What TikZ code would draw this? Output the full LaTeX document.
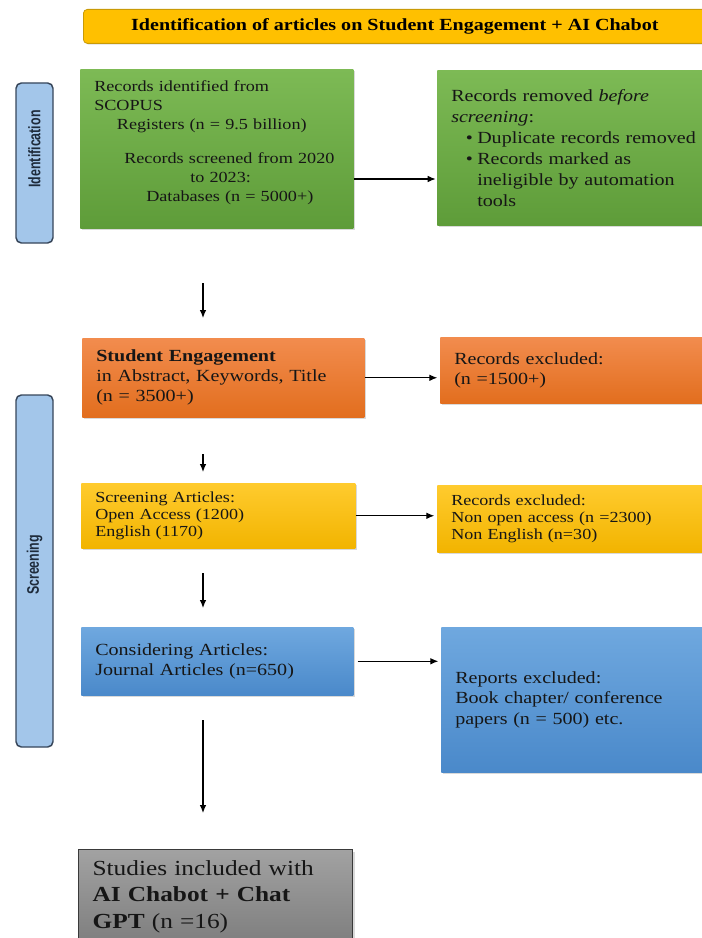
\documentclass[tikz,border=0pt]{standalone}
\usepackage{fontspec}
\setmainfont{Liberation Serif}[FakeStretch=1.18]
\newfontfamily\tabfont{Liberation Sans}
\usepackage{xcolor}
\usepackage{graphicx}
\usetikzlibrary{arrows.meta,shadows}

\definecolor{barfill}{HTML}{FFC000}
\definecolor{barline}{HTML}{C99A06}
\definecolor{grtop}{HTML}{7DBA55}
\definecolor{grbot}{HTML}{5E9C39}
\definecolor{ortop}{HTML}{F28C4E}
\definecolor{orbot}{HTML}{E26E1E}
\definecolor{yetop}{HTML}{FFCB2E}
\definecolor{yebot}{HTML}{F2B400}
\definecolor{bltop}{HTML}{6FA8DF}
\definecolor{blbot}{HTML}{4A89CA}
\definecolor{grytop}{HTML}{A2A2A2}
\definecolor{grybot}{HTML}{7E7E7E}
\definecolor{gryline}{HTML}{3A3A3A}
\definecolor{tabfill}{HTML}{A3C6EA}
\definecolor{tabline}{HTML}{37465A}
\definecolor{tabtext}{HTML}{1E2B3B}
\definecolor{inkdark}{HTML}{161616}

\newcommand\tablabel[2]{\hspace*{#1}\scalebox{1}[1.35]{#2}}

\begin{document}
\begin{tikzpicture}[x=0.75pt,y=-0.75pt]
        \tikzset{box/.style={anchor=north west,inner xsep=10.5pt,inner ysep=0pt,align=left,text=inkdark,
                drop shadow={opacity=0.3,shadow xshift=1.5pt,shadow yshift=-1.5pt}},
            greenbox/.style={box,top color=grtop,bottom color=grbot},
            orangebox/.style={box,top color=ortop,bottom color=orbot,
                font=\fontsize{12.75pt}{15pt}\selectfont},
            yellowbox/.style={box,top color=yetop,bottom color=yebot,
                font=\fontsize{11.5pt}{12.75pt}\selectfont},
            bluebox/.style={box,top color=bltop,bottom color=blbot,
                font=\fontsize{12.75pt}{15.2pt}\selectfont},
            graybox/.style={box,draw=gryline,line width=0.9pt,top color=grytop,bottom color=grybot,
                font=\fontsize{16.1pt}{20pt}\selectfont},
            titlebar/.style={anchor=north west,draw=barline,line width=0.6pt,fill=barfill,rounded corners=3pt,
                drop shadow={opacity=0.25,shadow xshift=1pt,shadow yshift=-1pt},
                font=\bfseries\fontsize{12.75pt}{15pt}\selectfont},
            tab/.style={draw=tabline,line width=1.1pt,fill=tabfill,rounded corners=4pt,rotate=90,
                minimum height=27.75pt,text=tabtext,font=\tabfont\bfseries\fontsize{9.3pt}{11pt}\selectfont},
            arr/.style={draw,line width=0.9pt,-{Latex[length=6pt,width=5pt]}}}
        \useasboundingbox (0,0) rectangle (701,938);

        \node[titlebar,minimum width=467.25pt,minimum height=25.5pt] (title) at (83,9)
            {Identification of articles on Student Engagement + AI Chabot};

        \node[tab,minimum width=120pt] (idtab) at (34.5,163) {\tablabel{21pt}{Identification}};
        \node[tab,minimum width=264pt] (scrtab) at (34.5,571) {\tablabel{9pt}{Screening}};

        \node[greenbox,minimum width=204.75pt,minimum height=119.25pt,text width=183.75pt,
            font=\fontsize{11.55pt}{14.25pt}\selectfont] (idL) at (80,69)
            {Records identified from\\SCOPUS\\
             \hspace*{17pt}Registers (n = 9.5 billion)\\[11pt]
             \hspace*{22.5pt}Records screened from 2020\\
             \hspace*{72pt}to 2023:\\
             \hspace*{39pt}Databases (n = 5000+)\rule[-12pt]{0pt}{12pt}};
        \node[greenbox,minimum width=206.25pt,minimum height=116.25pt,text width=185.25pt,
            font=\fontsize{12.75pt}{15.75pt}\selectfont] (idR) at (437,70)
            {Records removed \textit{before}\\\textit{screening}:\\
             \hspace*{11pt}\makebox[8.5pt][l]{\textbullet}Duplicate records removed\\
             \hspace*{11pt}\makebox[8.5pt][l]{\textbullet}Records marked as\\
             \hspace*{19.5pt}ineligible by automation\\
             \hspace*{19.5pt}tools};

        \node[orangebox,minimum width=211.5pt,minimum height=59.25pt,text width=190.5pt] (seL) at (82,338)
            {\textbf{Student Engagement}\\in Abstract, Keywords, Title\\(n = 3500+)};
        \node[orangebox,minimum width=204pt,minimum height=49.5pt,text width=183pt] (seR) at (440,337)
            {Records excluded:\\(n =1500+)};

        \node[yellowbox,minimum width=205.5pt,minimum height=48.75pt,text width=184.5pt] (scL) at (81,483)
            {Screening Articles:\\Open Access (1200)\\English (1170)};
        \node[yellowbox,minimum width=206.25pt,minimum height=50.25pt,text width=185.25pt] (scR) at (437,485)
            {Records excluded:\\Non open access (n =2300)\\Non English (n=30)};

        \node[bluebox,minimum width=204pt,minimum height=51pt,text width=183pt] (coL) at (81,627)
            {Considering Articles:\\Journal Articles (n=650)};
        \node[bluebox,minimum width=203.25pt,minimum height=108.75pt,text width=182.25pt] (coR) at (441,627)
            {Reports excluded:\\Book chapter/ conference\\papers (n = 500) etc.};

        \node[graybox,minimum width=205.5pt,minimum height=70.5pt,text width=184.5pt] (inc) at (78,849)
            {Studies included with\\\textbf{AI Chabot + Chat}\\\textbf{GPT} (n =16)};

        \coordinate (idy) at (0,179);
        \coordinate (d1a) at (203,283);
        \coordinate (d1b) at (203,318);
        \coordinate (d2a) at (203,454);
        \coordinate (d2b) at (203,472);
        \coordinate (d3a) at (203,573);
        \coordinate (d3b) at (203,608);
        \coordinate (d4a) at (203,720);
        \coordinate (d4b) at (203,813);

        \draw[arr,shorten >=1pt] (idL.east |- idy) -- (idR.west |- idy);
        \draw[arr,shorten >=2pt] (seL.east) -- (seR.west |- seL.east);
        \draw[arr,shorten >=2pt] (scL.east) -- (scR.west |- scL.east);
        \draw[arr,shorten >=2pt] ([xshift=3pt]coL.east) -- (coR.west |- coL.east);
        \draw[arr] (d1a) -- (d1b);
        \draw[arr] (d2a) -- (d2b);
        \draw[arr] (d3a) -- (d3b);
        \draw[arr] (d4a) -- (d4b);
\end{tikzpicture}
\end{document}
